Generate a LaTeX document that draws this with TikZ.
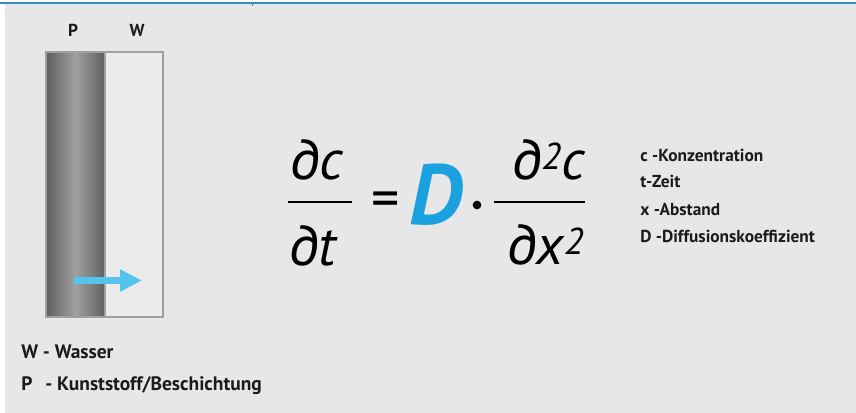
\documentclass[tikz,border=0pt]{standalone}
\usepackage{fontspec}
\setmainfont{PT Sans}
\usetikzlibrary{arrows.meta,positioning}
\definecolor{PanelGray}{RGB}{231,231,231}
\definecolor{TopBlue}{RGB}{52,142,196}
\definecolor{BarDark}{RGB}{94,95,97}
\definecolor{BarLight}{RGB}{160,161,163}
\definecolor{BarEdge}{RGB}{160,160,160}
\definecolor{WaterFill}{RGB}{235,235,235}
\definecolor{ArrowBlue}{RGB}{85,196,236}
\definecolor{CoefBlue}{RGB}{27,160,224}
\definecolor{TextBlack}{RGB}{26,26,26}
\newcommand\supTwo{\raisebox{8pt}{\fontsize{28}{30}\selectfont 2}}
\tikzset{
  >=Latex,
  lbl/.style={font=\fontsize{13}{15}\selectfont\bfseries,text=TextBlack,inner sep=0pt},
  lblbig/.style={lbl,font=\fontsize{14.6}{17}\selectfont\bfseries},
  frm/.style={font=\fontsize{42}{48}\selectfont\itshape,text=black,inner sep=0pt,anchor=base},
  fracbar/.style={line width=1.1pt,draw=black},
  flowarrow/.style={-{Triangle[length=16.5pt,width=15.75pt]},line width=5.25pt,draw=ArrowBlue}
}

\begin{document}
\begin{tikzpicture}[x=0.75pt,y=-0.75pt]
  \useasboundingbox (0,0) rectangle (856,413);
  \fill[white] (0,0) rectangle (856,413);
  \fill[PanelGray] (5,3.5) rectangle (856,413);
  \draw[TopBlue,line width=1.5pt] (0,2.7) -- (856,2.7);
  \draw[TopBlue,line width=0.75pt] (252,3) -- (252,6);
  % layer bar
  \shade[left color=BarDark,right color=BarDark,middle color=BarLight] (46,52) rectangle (105,317);
  \draw[BarEdge,fill=WaterFill,line width=0.9pt] (105,52) rectangle (163,317);
  \draw[BarEdge,line width=0.9pt] (46,52) rectangle (105,317);
  \node[lbl,anchor=base] (labP) at (73,37) {P};
  \node[lbl,anchor=base] (labW) at (137,37) {W};
  \coordinate (arrS) at (74,280.5);
  \coordinate (arrE) at (142,280.5);
  \draw[flowarrow] (arrS) -- (arrE);
  % Fick
  \node[frm] (num1) at (317,180) {∂c};
  \draw[fracbar] (288,202) -- (352,202);
  \node[frm] (den1) at (313,266) {∂t};
  \node[frm,anchor=center,font=\fontsize{42}{46}\selectfont] (eq) at (386,205) {=};
  \node[frm,font=\fontsize{64}{70}\selectfont\bfseries\itshape,text=CoefBlue] (coef) at (436,225) {D};
  \node[circle,fill=black,inner sep=0pt,minimum size=6.5pt] (dot) at (477,205) {};
  \node[frm] (num2) at (549,180) {∂\supTwo c};
  \draw[fracbar] (494,202) -- (585,202);
  \node[frm] (den2) at (546,265) {∂x\supTwo};
  % legend
  \node[lbl,anchor=base west] (legC) at (640,162) {c -Konzentration};
  \node[lbl,anchor=base west] (legT) at (640,188) {t-Zeit};
  \node[lbl,anchor=base west] (legX) at (640,216) {x -Abstand};
  \node[lbl,anchor=base west] (legD) at (640,243) {D -Diffusionskoeffizient};
  \node[lblbig,anchor=base west] (legW) at (21,358) {W - Wasser};
  \node[lblbig,anchor=base west] (legP) at (21,390) {P\hspace{6pt} - Kunststoff/Beschichtung};
\end{tikzpicture}
\end{document}
